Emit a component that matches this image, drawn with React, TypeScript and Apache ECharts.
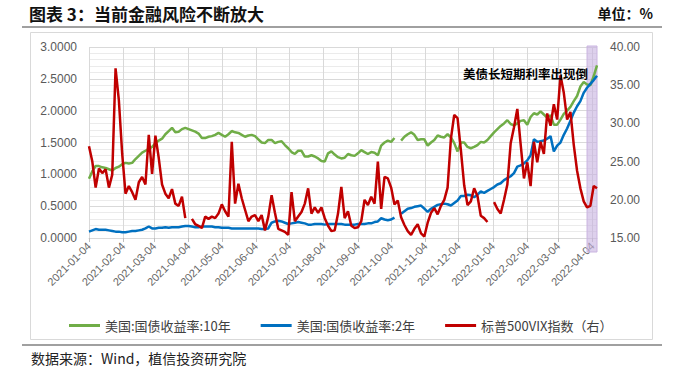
import React, { useEffect, useRef } from "react";
import * as echarts from "echarts";

// Calendar-day categories for the x axis
const firstDay = "2021-01-04";
const lastDay = "2022-04-08";
const categories: string[] = [];
{
  let t = Date.parse(firstDay + "T00:00:00Z");
  const end = Date.parse(lastDay + "T00:00:00Z");
  while (t <= end) {
    categories.push(new Date(t).toISOString().slice(0, 10));
    t += 86400000;
  }
}

const sampleDates = [
  "2021-01-04","2021-01-07","2021-01-10","2021-01-13","2021-01-16","2021-01-19","2021-01-22","2021-01-25","2021-01-28","2021-01-31",
  "2021-02-03","2021-02-06","2021-02-09","2021-02-12","2021-02-15","2021-02-18","2021-02-21","2021-02-24","2021-02-27",
  "2021-03-02","2021-03-05","2021-03-08","2021-03-11","2021-03-14","2021-03-17","2021-03-20","2021-03-23","2021-03-26","2021-03-29",
  "2021-04-01","2021-04-04","2021-04-07","2021-04-10","2021-04-13","2021-04-16","2021-04-19","2021-04-22","2021-04-25","2021-04-28",
  "2021-05-01","2021-05-04","2021-05-07","2021-05-10","2021-05-13","2021-05-16","2021-05-19","2021-05-22","2021-05-25","2021-05-28","2021-05-31",
  "2021-06-03","2021-06-06","2021-06-09","2021-06-12","2021-06-15","2021-06-18","2021-06-21","2021-06-24","2021-06-27","2021-06-30",
  "2021-07-03","2021-07-06","2021-07-09","2021-07-12","2021-07-15","2021-07-18","2021-07-21","2021-07-24","2021-07-27","2021-07-30",
  "2021-08-02","2021-08-05","2021-08-08","2021-08-11","2021-08-14","2021-08-17","2021-08-20","2021-08-23","2021-08-26","2021-08-29",
  "2021-09-01","2021-09-04","2021-09-07","2021-09-10","2021-09-13","2021-09-16","2021-09-19","2021-09-22","2021-09-25","2021-09-28",
  "2021-10-01","2021-10-04","2021-10-07","2021-10-10","2021-10-13","2021-10-16","2021-10-19","2021-10-22","2021-10-25","2021-10-28","2021-10-31",
  "2021-11-03","2021-11-06","2021-11-09","2021-11-12","2021-11-15","2021-11-18","2021-11-21","2021-11-24","2021-11-27","2021-11-30",
  "2021-12-03","2021-12-06","2021-12-09","2021-12-12","2021-12-15","2021-12-18","2021-12-21","2021-12-24","2021-12-27","2021-12-30",
  "2022-01-02","2022-01-05","2022-01-08","2022-01-11","2022-01-14","2022-01-17","2022-01-20","2022-01-23","2022-01-26","2022-01-29",
  "2022-02-01","2022-02-04","2022-02-07","2022-02-10","2022-02-13","2022-02-16","2022-02-19","2022-02-22","2022-02-25","2022-02-28",
  "2022-03-03","2022-03-06","2022-03-09","2022-03-12","2022-03-15","2022-03-18","2022-03-21","2022-03-24","2022-03-27","2022-03-30",
  "2022-04-02","2022-04-05","2022-04-08",
];

const us10y = [
  0.93,1.05,1.13,1.13,1.11,1.10,1.08,1.06,1.10,1.12,
  1.16,1.18,1.17,1.18,1.24,1.29,1.34,1.37,1.40,1.43,
  1.49,1.53,1.56,1.63,1.68,1.73,1.66,1.67,1.71,1.73,
  1.71,1.69,1.67,1.64,1.57,1.57,1.59,1.60,1.62,1.65,
  1.62,1.59,1.63,1.68,1.66,1.65,1.62,1.59,1.61,1.62,
  1.60,1.55,1.50,1.49,1.54,1.54,1.49,1.51,1.52,1.46,
  1.41,1.35,1.32,1.37,1.37,1.28,1.28,1.30,1.28,1.25,
  1.21,1.20,1.33,1.36,1.31,1.27,1.25,1.26,1.32,1.30,
  1.29,1.33,1.38,1.35,1.32,1.35,1.34,1.30,1.45,1.50,
  1.53,1.51,1.57,null,1.53,1.59,1.63,1.66,1.62,1.54,
  1.55,1.55,1.45,1.50,1.54,1.61,1.59,1.58,1.63,1.58,
  1.49,1.36,1.50,1.50,1.43,1.41,1.43,1.46,1.51,1.50,
  1.54,1.60,1.66,1.71,1.76,1.80,1.85,1.79,1.77,1.80,
  1.84,1.85,1.78,1.90,1.96,1.94,1.99,1.94,1.89,1.93,
  1.78,1.78,1.86,1.95,2.00,2.06,2.15,2.23,2.38,2.45,
  2.41,2.40,2.54,2.71,
];

const us2y = [
  0.10,0.12,0.14,0.13,0.13,0.13,0.12,0.11,0.10,0.10,
  0.09,0.09,0.10,0.11,0.11,0.12,0.13,0.15,0.18,0.15,
  0.15,0.16,0.16,0.17,0.16,0.17,0.17,0.17,0.18,0.19,
  0.19,0.18,0.17,0.17,0.18,0.18,0.18,0.18,0.17,0.17,
  0.16,0.16,0.16,0.15,0.15,0.15,0.15,0.15,0.15,0.15,
  0.15,0.15,0.14,0.14,0.15,0.24,0.26,0.27,0.26,0.24,
  0.22,0.23,0.24,0.25,0.24,0.23,0.21,0.21,0.22,0.22,
  0.22,0.21,0.22,0.22,0.22,0.22,0.22,0.21,0.21,0.21,
  0.21,0.22,0.22,0.22,0.23,0.23,0.25,0.26,0.31,0.29,
  0.28,0.29,0.32,null,0.38,0.42,0.46,0.47,0.49,0.50,
  0.51,0.46,0.41,0.46,0.49,0.52,0.53,0.54,0.53,0.51,
  0.55,0.59,0.66,0.66,0.68,0.67,0.64,0.68,0.73,0.71,
  0.74,0.77,0.80,0.84,0.86,0.91,0.94,0.97,1.02,1.12,
  1.14,1.17,1.22,1.30,1.55,1.51,1.52,1.53,1.56,1.60,
  1.36,1.45,1.50,1.62,1.72,1.84,1.97,2.07,2.15,2.28,
  2.36,2.42,2.48,2.55,
];

const vix = [
  27.0,25.0,21.6,24.1,23.5,24.0,21.6,23.3,37.2,33.0,
  26.0,20.8,21.8,21.0,20.0,22.3,23.0,22.0,28.5,23.4,
  28.4,25.5,22.0,20.8,20.2,21.4,19.5,19.2,20.4,17.6,
  null,17.5,16.8,16.6,16.3,17.8,17.5,17.8,17.6,18.2,
  19.4,18.5,17.8,27.6,19.5,22.1,20.2,18.7,17.2,17.8,
  18.0,17.2,18.0,16.0,17.8,20.6,18.3,16.2,16.0,15.8,
  15.4,21.0,17.2,17.8,18.4,19.5,21.5,18.2,19.0,18.3,
  19.0,17.6,16.6,15.9,16.0,18.2,21.7,17.6,18.5,16.6,
  16.3,16.4,17.2,20.0,19.3,20.4,19.5,25.0,18.8,23.0,
  22.8,21.6,19.4,19.9,17.7,16.7,15.9,15.4,16.2,16.8,
  15.6,15.2,17.0,18.3,18.9,18.1,19.2,20.0,21.6,28.0,
  31.1,30.7,26.5,21.9,19.3,19.8,21.5,20.5,17.9,17.6,
  17.1,null,19.7,18.8,18.2,20.0,22.0,27.4,29.5,31.9,
  27.3,22.8,24.9,21.8,27.6,24.9,27.6,26.0,31.3,29.7,
  32.5,30.5,36.3,34.0,30.5,31.5,27.2,23.8,21.5,19.8,
  19.0,19.2,21.8,21.5,
];

const seriesNames = ["美国:国债收益率:10年", "美国:国债收益率:2年", "标普500VIX指数（右）"];
const seriesColors = ["#70AD47", "#0070C0", "#C00000"];
const leftAxis = { min: 0, max: 3, interval: 0.5 };
const rightAxis = { min: 15, max: 40, interval: 5 };
const inversionStart = "2022-03-30";
const inversionEnd = "2022-04-08";

const titleText = "图表 3：当前金融风险不断放大";
const unitText = "单位：%";
const sourceText = "数据来源：Wind，植信投资研究院";
const noteText = "美债长短期利率出现倒";

const CJK = '"Noto Sans CJK SC", "Noto Sans", sans-serif';
const NUM = '"Liberation Sans", "Noto Sans", sans-serif';

const isMonthTick = (_i: number, v: string) => v.slice(8) === "04";

function toData(values: (number | null)[]) {
  return sampleDates.map((d, i) => [categories.indexOf(d), values[i]]);
}

export default function App() {
  const ref = useRef<HTMLDivElement>(null);
  useEffect(() => {
    if (!ref.current) return;
    const chart = echarts.init(ref.current, undefined, { renderer: "svg" });
    const lineSeries = (name: string, color: string, values: (number | null)[], yAxisIndex: number) => ({
      name,
      type: "line",
      yAxisIndex,
      data: toData(values),
      showSymbol: false,
      symbol: "none",
      connectNulls: false,
      lineStyle: { width: 2.5, color },
      itemStyle: { color },
    });
    chart.setOption({
      animation: false,
      backgroundColor: "#ffffff",
      textStyle: { fontFamily: CJK },
      grid: { left: 89, right: 98, top: 47, bottom: 131 },
      legend: {
        left: 64,
        top: 314,
        icon: "rect",
        itemWidth: 31,
        itemHeight: 3,
        itemGap: 30,
        textStyle: { fontSize: 13, color: "#404040", fontFamily: CJK },
        data: seriesNames,
      },
      xAxis: {
        type: "category",
        data: categories,
        boundaryGap: false,
        axisLine: { show: true, lineStyle: { color: "#d9d9d9" } },
        axisTick: { show: true, interval: isMonthTick, length: 4, lineStyle: { color: "#bfbfbf" } },
        axisLabel: { interval: isMonthTick, rotate: 45, fontSize: 11, color: "#666666", margin: 6, fontFamily: NUM },
        splitLine: { show: true, interval: isMonthTick, lineStyle: { color: "#d9d9d9" } },
      },
      yAxis: [
        {
          type: "value",
          position: "left",
          ...leftAxis,
          axisLine: { show: false },
          axisTick: { show: false },
          axisLabel: { formatter: (v: number) => v.toFixed(4), fontSize: 12, color: "#595959", margin: 12, fontFamily: NUM },
          splitLine: { show: true, lineStyle: { color: "#d9d9d9" } },
          minorTick: { show: false, splitNumber: 5 },
          minorSplitLine: { show: true, lineStyle: { color: "#ebebeb" } },
        },
        {
          type: "value",
          position: "right",
          ...rightAxis,
          axisLine: { show: false },
          axisTick: { show: false },
          axisLabel: { formatter: (v: number) => v.toFixed(2), fontSize: 12, color: "#595959", margin: 13, fontFamily: NUM },
          splitLine: { show: false },
        },
      ],
      series: [
        lineSeries(seriesNames[0], seriesColors[0], us10y, 0),
        lineSeries(seriesNames[1], seriesColors[1], us2y, 0),
        lineSeries(seriesNames[2], seriesColors[2], vix, 1),
      ],
    });

    const x0 = chart.convertToPixel({ xAxisIndex: 0 }, categories.indexOf(inversionStart)) as number;
    const x1 = chart.convertToPixel({ xAxisIndex: 0 }, categories.indexOf(inversionEnd)) as number;
    const yTop = chart.convertToPixel({ yAxisIndex: 0 }, leftAxis.max) as number;

    chart.setOption({
      graphic: [
        {
          type: "text", x: 29, y: 13, silent: true,
          style: { text: titleText, font: `bold 17px ${CJK}`, fill: "#111", verticalAlign: "middle" },
        },
        {
          type: "text", x: 653, y: 13, silent: true,
          style: { text: unitText, font: `bold 14px ${CJK}`, fill: "#111", align: "right", verticalAlign: "middle" },
        },
        { type: "line", silent: true, shape: { x1: 22, y1: 27, x2: 662, y2: 27 }, style: { stroke: "#808080", lineWidth: 1.5 } },
        { type: "rect", silent: true, z: -1, shape: { x: 30.5, y: 32.5, width: 622, height: 307 }, style: { fill: "none", stroke: "#d9d9d9", lineWidth: 1 } },
        { type: "line", silent: true, shape: { x1: 22, y1: 345, x2: 662, y2: 345 }, style: { stroke: "#808080", lineWidth: 1.5 } },
        {
          type: "text", x: 31, y: 358, silent: true,
          style: { text: sourceText, font: `14px ${CJK}`, fill: "#222", verticalAlign: "middle" },
        },
        {
          type: "rect", silent: true, z: 1,
          shape: { x: x0, y: yTop - 1, width: x1 - x0, height: 252 - (yTop - 1) },
          style: { fill: "rgba(198,176,224,0.6)", stroke: "#c9b4e0", lineWidth: 1 },
        },
        {
          type: "text", x: 463, y: 73, silent: true, z: 5,
          style: { text: noteText, font: `bold 12.5px ${CJK}`, fill: "#000", verticalAlign: "middle" },
        },
      ],
    });

    return () => chart.dispose();
  }, []);
  return (
    <div
      ref={ref}
      style={{ position: "fixed", left: 0, top: 0, width: 695, height: 369, background: "#fff" }}
    />
  );
}
